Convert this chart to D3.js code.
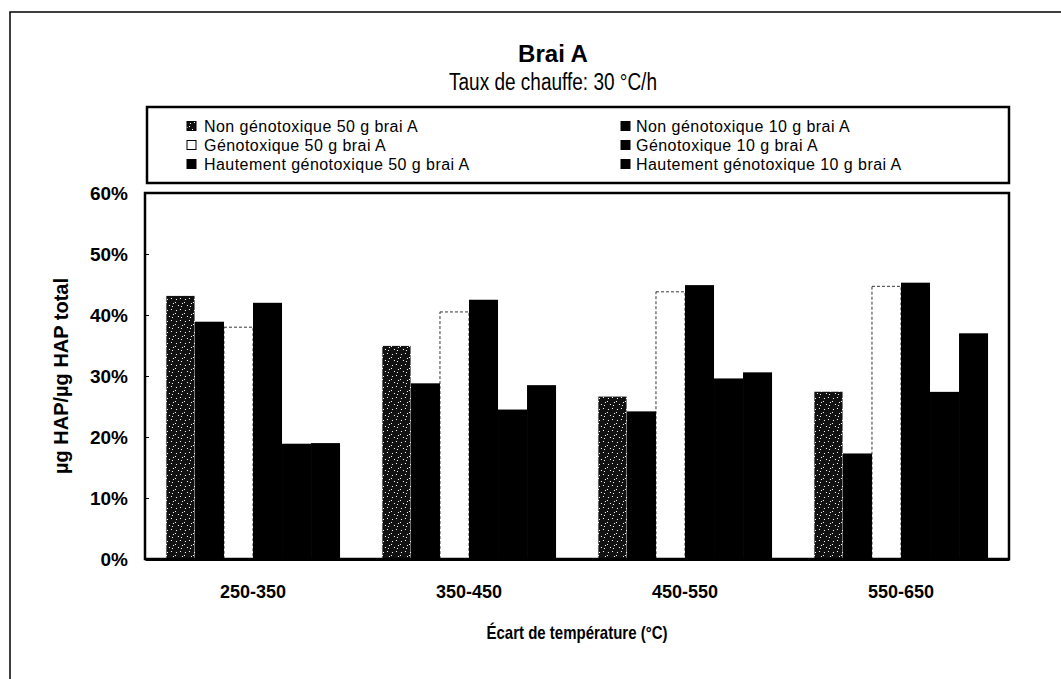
<!DOCTYPE html>
<html><head><meta charset="utf-8">
<script src="https://cdn.jsdelivr.net/npm/d3@7"></script>
<style>html,body{margin:0;padding:0;background:#fff;}svg{display:block;}</style>
</head><body>
<svg id="chart" width="1061" height="679"></svg>
<script>
const categories = ["250-350", "350-450", "450-550", "550-650"];
const seriesNames = [
  "Non génotoxique 50 g brai A",
  "Non génotoxique 10 g brai A",
  "Génotoxique 50 g brai A",
  "Génotoxique 10 g brai A",
  "Hautement génotoxique 50 g brai A",
  "Hautement génotoxique 10 g brai A"
];
const nonGeno50 = [43.2, 35.0, 26.7, 27.5];
const nonGeno10 = [38.9, 28.8, 24.2, 17.3];
const geno50 = [38.0, 40.5, 43.8, 44.7];
const geno10 = [42.0, 42.5, 44.9, 45.3];
const hautGeno50 = [18.9, 24.5, 29.6, 27.4];
const hautGeno10 = [19.0, 28.5, 30.6, 37.0];
const yTicks = [0, 10, 20, 30, 40, 50, 60];

const seriesValues = [nonGeno50, nonGeno10, geno50, geno10, hautGeno50, hautGeno10];
const seriesFill = ["url(#speckle)", "#000", "#fff", "#000", "#000", "#000"];

const svg = d3.select("#chart");
const FONT = "'Liberation Sans', Arial, sans-serif";

const defs = svg.append("defs");
const pat = defs.append("pattern").attr("id", "speckle").attr("patternUnits", "userSpaceOnUse")
  .attr("width", 9).attr("height", 11);
pat.append("rect").attr("width", 9).attr("height", 11).attr("fill", "#111");
[[1,2],[5,1],[7,6],[3,8],[0,5],[6,9]].forEach(p => {
  pat.append("rect").attr("x", p[0]).attr("y", p[1]).attr("width", 1).attr("height", 1).attr("fill", "#fff");
});

function stretchedText(x, yBase, txt, size, weight, k, anchor) {
  return svg.append("text")
    .attr("transform", `translate(${x},${yBase}) scale(1,${k})`)
    .attr("text-anchor", anchor || "middle")
    .attr("font-family", FONT).attr("font-size", size).attr("font-weight", weight || "normal")
    .text(txt);
}

svg.append("path").attr("d", "M10,679 L10,12 L1061,12").attr("fill", "none").attr("stroke", "#000").attr("stroke-width", 1.5);

const pLeft = 145, pRight = 1009, pTop = 193, pBottom = 559;

const x0 = d3.scaleBand().domain(categories).range([pLeft, pRight]).paddingInner(0.194).paddingOuter(0.097);
const x1 = d3.scaleBand().domain(d3.range(seriesNames.length)).range([0, x0.bandwidth()]);
const y = d3.scaleLinear().domain([0, 60]).range([pBottom, pTop]);

stretchedText(553, 62, "Brai A", 24, "bold", 1.0);
stretchedText(553, 90, "Taux de chauffe:  30 °C/h", 19, "normal", 1.22);

// legend
svg.append("rect").attr("x", 147).attr("y", 107).attr("width", 862).attr("height", 76)
  .attr("fill", "#fff").attr("stroke", "#000").attr("stroke-width", 2.5);
const legSym = [187, 621], legText = [204, 636], legRows = [126, 145, 164];
seriesNames.forEach((name, i) => {
  const c = i % 2, cy = legRows[Math.floor(i / 2)];
  svg.append("rect").attr("x", legSym[c]).attr("y", cy - 4.5).attr("width", 9).attr("height", 9)
    .attr("fill", seriesFill[i]).attr("stroke", "#000").attr("stroke-width", 1);
  svg.append("text").attr("x", legText[c]).attr("y", cy + 6)
    .attr("font-family", FONT).attr("font-size", 16).attr("letter-spacing", 0.45).text(name);
});

// bars
const groups = svg.append("g").selectAll("g").data(categories).join("g")
  .attr("transform", d => `translate(${x0(d)},0)`);
groups.selectAll("rect").data((c, ci) => seriesValues.map((vals, si) => ({si, v: vals[ci]})))
  .join("rect")
  .attr("x", d => x1(d.si))
  .attr("y", d => y(d.v))
  .attr("width", x1.bandwidth())
  .attr("height", d => y(0) - y(d.v))
  .attr("fill", d => seriesFill[d.si])
  .attr("stroke", d => d.si === 2 ? "#000" : (d.si === 0 ? "#fff" : "none"))
  .attr("stroke-width", 0.8)
  .attr("stroke-dasharray", d => d.si === 2 ? "3,2" : null);

svg.append("rect").attr("x", pLeft).attr("y", pTop).attr("width", pRight - pLeft).attr("height", pBottom - pTop)
  .attr("fill", "none").attr("stroke", "#000").attr("stroke-width", 2.5);

const yAxis = d3.axisLeft(y).tickValues(yTicks).tickFormat(d => d + "%").tickSize(-4).tickPadding(17);
const ya = svg.append("g").attr("transform", `translate(${pLeft},0)`).call(yAxis);
ya.select(".domain").remove();
ya.selectAll("text").attr("font-family", FONT).attr("font-weight", "bold").attr("font-size", 19).attr("fill", "#000");

const xAxis = d3.axisBottom(x0).tickSize(0).tickPadding(26);
const xa = svg.append("g").attr("transform", `translate(0,${pBottom})`).call(xAxis);
xa.select(".domain").attr("stroke-width", 3);
xa.selectAll("text").attr("font-family", FONT).attr("font-weight", "bold").attr("font-size", 18).attr("fill", "#000");

stretchedText((pLeft + pRight) / 2, 639, "Écart de température (°C)", 15, "bold", 1.25);
svg.append("text").attr("transform", `translate(68,${(pTop + pBottom) / 2}) rotate(-90)`).attr("text-anchor", "middle")
  .attr("font-family", FONT).attr("font-weight", "bold").attr("font-size", 20).text("µg HAP/µg HAP total");
</script>
</body></html>
